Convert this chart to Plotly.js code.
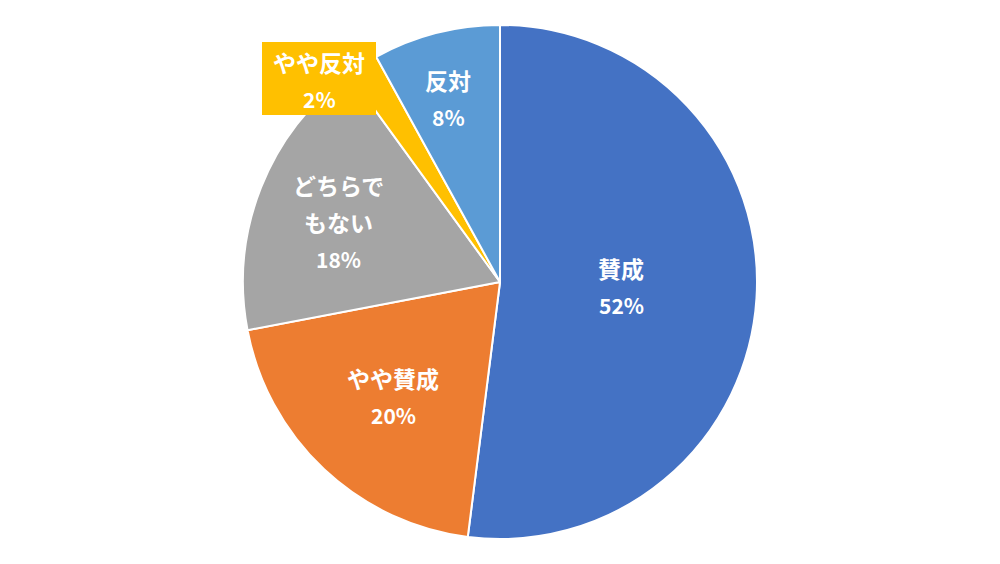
<!DOCTYPE html>
<html><head><meta charset="utf-8">
<script src="https://cdn.plot.ly/plotly-3.0.1.min.js"></script>
<style>html,body{margin:0;padding:0;background:#fff}#c{width:1000px;height:564px}</style>
</head><body><div id="c"></div>
<script>
const categories = ['賛成', 'やや賛成', 'どちらでもない', 'やや反対', '反対'];
const values = [52, 20, 18, 2, 8];
const colors = ['#4472C4', '#ED7D31', '#A5A5A5', '#FFC000', '#5B9BD5'];
const labelLines = [['賛成'], ['やや賛成'], ['どちらで', 'もない'], ['やや反対'], ['反対']];
// label anchor (pixel centre of first line) and line step
const labelPos = [[621, 268], [393, 378], [338, 185], [319, 62], [448, 80]];
const lineStep = 37;

const W = 1000, H = 564, cx = 500, cy = 282, R = 257;
const fam = '"Noto Sans CJK JP", "Noto Sans", sans-serif';
const fontJa = {family: fam, size: 23, color: '#ffffff'};
const fontPct = {family: fam, size: 21, color: '#ffffff'};

const annotations = [];
categories.forEach((c, i) => {
  const lines = labelLines[i].concat([values[i] + '%']);
  lines.forEach((t, k) => {
    annotations.push({
      xref: 'paper', yref: 'paper',
      x: labelPos[i][0] / W, y: 1 - (labelPos[i][1] + k * lineStep) / H,
      xanchor: 'center', yanchor: 'middle',
      text: '<b>' + t + '</b>', showarrow: false,
      font: k === lines.length - 1 ? fontPct : fontJa
    });
  });
});

const trace = {
  type: 'pie',
  labels: categories,
  values: values,
  sort: false,
  direction: 'clockwise',
  rotation: 0,
  textinfo: 'none',
  hoverinfo: 'label+percent',
  marker: {colors: colors, line: {color: '#ffffff', width: 2}},
  domain: {x: [(cx - R) / W, (cx + R) / W], y: [1 - (cy + R) / H, 1 - (cy - R) / H]}
};

const layout = {
  width: W, height: H,
  margin: {l: 0, r: 0, t: 0, b: 0},
  paper_bgcolor: '#ffffff',
  showlegend: false,
  shapes: [{
    type: 'rect', xref: 'paper', yref: 'paper', layer: 'above',
    x0: 262 / W, x1: 376 / W, y0: 1 - 115 / H, y1: 1 - 42 / H,
    fillcolor: '#FFC000', line: {width: 0}
  }],
  annotations: annotations
};

Plotly.newPlot('c', [trace], layout, {displayModeBar: false, staticPlot: true});
</script></body></html>
